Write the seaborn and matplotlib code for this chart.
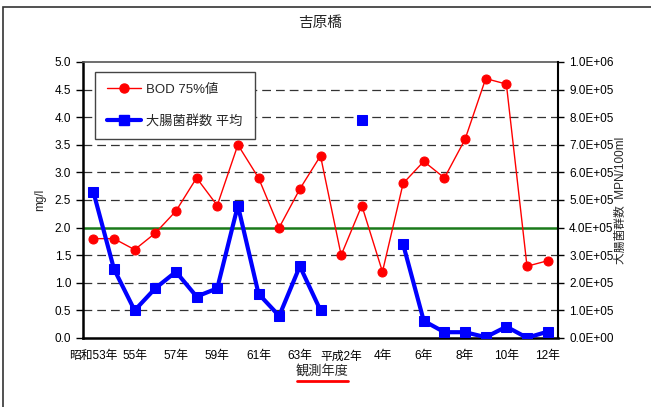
import numpy as np
import pandas as pd
import matplotlib
matplotlib.use("Agg")
import matplotlib.pyplot as plt
from matplotlib.lines import Line2D
from matplotlib.patches import Rectangle
from matplotlib.ticker import FixedLocator, FuncFormatter
import seaborn as sns

# Survey years (Showa 53 .. Heisei 12)
years = ["昭和53年", "54年", "55年", "56年", "57年", "58年", "59年", "60年",
         "61年", "62年", "63年", "平成元年", "平成2年", "3年", "4年", "5年",
         "6年", "7年", "8年", "9年", "10年", "11年", "12年"]
tick_labels = ["昭和53年", "55年", "57年", "59年", "61年", "63年", "平成2年",
               "4年", "6年", "8年", "10年", "12年"]

# BOD 75% value (mg/l)
bod75 = [1.8, 1.8, 1.6, 1.9, 2.3, 2.9, 2.4, 3.5, 2.9, 2.0, 2.7, 3.3,
         1.5, 2.4, 1.2, 2.8, 3.2, 2.9, 3.6, 4.7, 4.6, 1.3, 1.4]

# Coliform count, annual mean (MPN/100ml); None = not measured
coliform = [5.3e5, 2.5e5, 1.0e5, 1.8e5, 2.4e5, 1.5e5, 1.8e5, 4.8e5, 1.6e5,
            0.8e5, 2.6e5, 1.0e5, None, 7.9e5, None, 3.4e5, 6.2e4, 2.1e4,
            2.1e4, 3.0e3, 4.1e4, 1.0e3, 2.3e4]

# Environmental standard for BOD
bod_standard = 2.0

sns.set_theme(style="white")
plt.rcParams["font.family"] = ["Liberation Sans", "Noto Sans CJK JP", "DejaVu Sans"]

x = np.arange(len(years))
bod_df = pd.DataFrame({"x": x, "bod": bod75})

# split coliform series into contiguous runs so gaps are not bridged
col = pd.Series(coliform, dtype=float)
seg = col.isna().cumsum()
col_df = pd.DataFrame({"x": x, "val": col, "seg": seg}).dropna()

W, H = 651, 407
fig = plt.figure(figsize=(W / 100, H / 100), dpi=100)
fig.patch.set_facecolor("white")

L, R, T, B = 83, 558, 62, 338
ax = fig.add_axes([L / W, 1 - B / H, (R - L) / W, (B - T) / H])
ax.set_facecolor("white")

# horizontal dashed grid
for v in np.arange(0.5, 5.0, 0.5):
    if abs(v - bod_standard) > 1e-9:
        ax.axhline(v, color="#333333", lw=0.9, ls=(0, (7, 4)), zorder=1)
ax.axhline(bod_standard, color="#1a7a1a", lw=1.8, zorder=2)

sns.lineplot(data=bod_df, x="x", y="bod", ax=ax, color="#ff0000", lw=1.0,
             marker="o", markersize=6.5, markeredgecolor="#ff0000",
             legend=False, zorder=3)

ax.set_xlim(-0.5, len(years) - 0.5)
ax.set_ylim(0, 5.0)
ax.set_yticks(np.arange(0, 5.01, 0.5))
ax.yaxis.set_major_formatter(FuncFormatter(lambda v, p: f"{v:.1f}"))
ax.set_xticks(np.arange(0, len(years), 2))
ax.set_xticklabels(tick_labels)
ax.xaxis.set_minor_locator(FixedLocator(np.arange(-0.5, len(years), 1.0)))
ax.tick_params(axis="x", which="major", length=0, pad=9, labelsize=8.5, colors="black")
ax.tick_params(axis="x", which="minor", length=5, direction="in", width=1, color="black")
ax.tick_params(axis="y", length=5, direction="out", width=1, labelsize=8.5,
               left=True, colors="black")
ax.set_xlabel("")
ax.set_ylabel("mg/l", fontsize=8.5, labelpad=6)

for s in ["left", "bottom"]:
    ax.spines[s].set_color("black")
    ax.spines[s].set_linewidth(1.8)
ax.spines["top"].set_color("#555555")
ax.spines["top"].set_linewidth(1.2)
ax.spines["right"].set_visible(False)

ax2 = ax.twinx()
sns.lineplot(data=col_df, x="x", y="val", units="seg", estimator=None, ax=ax2,
             color="#0000ff", lw=3.0, marker="s", markersize=7.5,
             markeredgecolor="#0000ff", legend=False, zorder=4)
ax2.set_ylim(0, 1.0e6)
ax2.set_yticks(np.arange(0, 1.0e6 + 1, 1.0e5))
ax2.yaxis.set_major_formatter(FuncFormatter(lambda v, p: f"{v:.1E}"))
ax2.tick_params(axis="y", length=4, direction="out", width=1, labelsize=8.5,
                right=True, colors="black", pad=4)
ax2.set_ylabel("大腸菌群数  MPN/100ml", fontsize=8.5, labelpad=1)
ax2.set_xlabel("")
ax2.spines["right"].set_color("black")
ax2.spines["right"].set_linewidth(1.5)
for s in ["left", "top", "bottom"]:
    ax2.spines[s].set_visible(False)

handles = [
    Line2D([], [], color="#ff0000", lw=1.0, marker="o", markersize=6.5),
    Line2D([], [], color="#0000ff", lw=3.0, marker="s", markersize=7.5),
]
leg = ax2.legend(handles, ["BOD 75%値", "大腸菌群数 平均"], loc="upper left",
                 bbox_to_anchor=(0.025, 0.965), fontsize=9.5, frameon=True,
                 fancybox=False, edgecolor="#444444", framealpha=1,
                 labelspacing=1.4, handlelength=2.6, borderpad=0.9,
                 handletextpad=0.4, borderaxespad=0)
leg.get_frame().set_linewidth(1.0)

fig.text(320 / W, 1 - 23 / H, "吉原橋", ha="center", va="center", fontsize=10.5)
fig.text(322 / W, 1 - 371 / H, "観測年度", ha="center", va="center", fontsize=9.5)
fig.add_artist(Line2D([297 / W, 348 / W], [1 - 381 / H, 1 - 381 / H],
                      color="#ff0000", lw=2, transform=fig.transFigure))

# outer chart frame
fig.add_artist(Rectangle((3 / W, -0.2), 1.2, 1.2 - 7 / H, fill=False,
                         edgecolor="#333333", lw=1.2, transform=fig.transFigure,
                         clip_on=False))

fig.savefig("out.png", dpi=100, facecolor="white")
